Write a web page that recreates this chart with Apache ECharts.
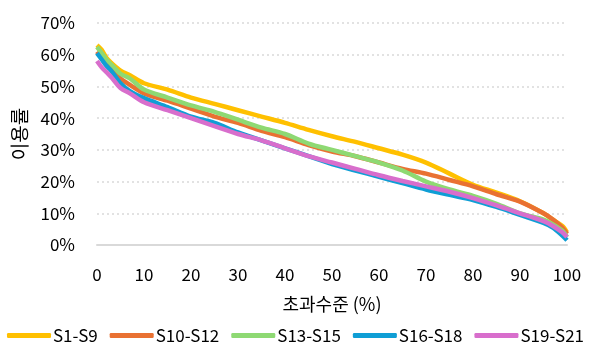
<html>
<head>
    <meta charset="utf-8">
    <title>ECharts</title>
    <script src="https://cdn.jsdelivr.net/npm/echarts@6.0.0/dist/echarts.min.js"></script>
</head>
<body style="margin:0">
<div id="main" style="width: 591px;height:354px;"></div>
<script type="text/javascript">
    // 초과수준 (%)
    var xs = [0, 1, 2, 3, 5, 7, 10, 15, 20, 25, 30, 35, 40, 45, 50, 55, 60, 65, 70, 75, 80, 85, 90, 95, 97, 99, 100];

    var names = ['S1-S9', 'S10-S12', 'S13-S15', 'S16-S18', 'S19-S21'];
    var colors = ['#FFC000', '#E97132', '#8ED973', '#0F9ED5', '#D86ECC'];

    // 이용률 (%)
    var s1_s9   = [63, 61.5, 59, 57.5, 55, 53.5, 51, 49, 46.5, 44.5, 42.5, 40.5, 38.5, 36.3, 34.3, 32.5, 30.5, 28.5, 26, 22.5, 19, 16.5, 13.8, 10, 8, 6, 4];
    var s10_s12 = [61, 59, 57, 55.5, 52.5, 50.5, 47.8, 45.5, 43, 40.5, 38.5, 36, 34, 31.5, 29.5, 28, 26, 24, 22.5, 20.5, 18.5, 16, 13.7, 10, 8, 5.5, 3.5];
    var s13_s15 = [62.5, 60.5, 58.5, 57, 54, 52.5, 49, 46.5, 44, 42, 39.5, 37, 35, 32, 30, 28, 26, 23.5, 20, 17.5, 15.5, 13, 10, 8, 6.5, 4.5, 2.5];
    var s16_s18 = [60.5, 58.5, 56.5, 55, 51, 48.5, 46.3, 43.5, 40.5, 38.5, 35.5, 33, 30.5, 28, 25.5, 23.5, 21.5, 19.5, 17.5, 15.8, 14.2, 12, 9.5, 7, 5.5, 3, 1.5];
    var s19_s21 = [58, 56, 54.5, 53, 49.5, 47.8, 45, 42.5, 40, 37.5, 35, 33, 30.5, 28, 26, 24, 22, 20.2, 18.5, 16.8, 14.8, 12.5, 10, 7.5, 6, 4, 2.5];

    var allData = [s1_s9, s10_s12, s13_s15, s16_s18, s19_s21];

    var font = "'Noto Sans CJK KR', 'Noto Sans', sans-serif";

    var myChart = echarts.init(document.getElementById('main'));

    var series = [];
    for (var i = 0; i < names.length; i++) {
        var pts = [];
        for (var j = 0; j < xs.length; j++) {
            pts.push([xs[j], allData[i][j]]);
        }
        series.push({
            name: names[i],
            type: 'line',
            data: pts,
            smooth: 0.3,
            showSymbol: false,
            lineStyle: { width: 4.5, color: colors[i] },
            itemStyle: { color: colors[i] }
        });
    }

    var option = {
        animation: false,
        textStyle: { fontFamily: font },
        grid: { left: 97, right: 24, top: 23, bottom: 109 },
        legend: {
            bottom: 5,
            left: 'center',
            itemWidth: 44,
            itemHeight: 5,
            itemGap: 12,
            icon: 'roundRect',
            textStyle: { fontSize: 17, color: '#000', fontFamily: font, padding: [0, 0, 0, -3] },
            data: names
        },
        xAxis: {
            type: 'value',
            min: 0,
            max: 100,
            interval: 10,
            name: '초과수준 (%)',
            nameLocation: 'middle',
            nameGap: 50,
            nameTextStyle: { fontSize: 18, color: '#000', fontFamily: font },
            axisLine: { show: true, lineStyle: { color: '#D9D9D9', width: 2 } },
            axisTick: { show: false },
            splitLine: { show: false },
            axisLabel: { fontSize: 17, color: '#000', margin: 21, fontFamily: font }
        },
        yAxis: {
            type: 'value',
            min: 0,
            max: 70,
            interval: 10,
            name: '이용률',
            nameLocation: 'middle',
            nameGap: 62,
            nameTextStyle: { fontSize: 19, color: '#000', fontFamily: font },
            axisLine: { show: false },
            axisTick: { show: false },
            splitLine: { lineStyle: { color: '#D9D9D9', type: [2, 3], width: 1.5 } },
            axisLabel: { fontSize: 17, color: '#000', margin: 22, fontFamily: font, formatter: '{value}%' }
        },
        series: series
    };

    myChart.setOption(option);
</script>
</body>
</html>
